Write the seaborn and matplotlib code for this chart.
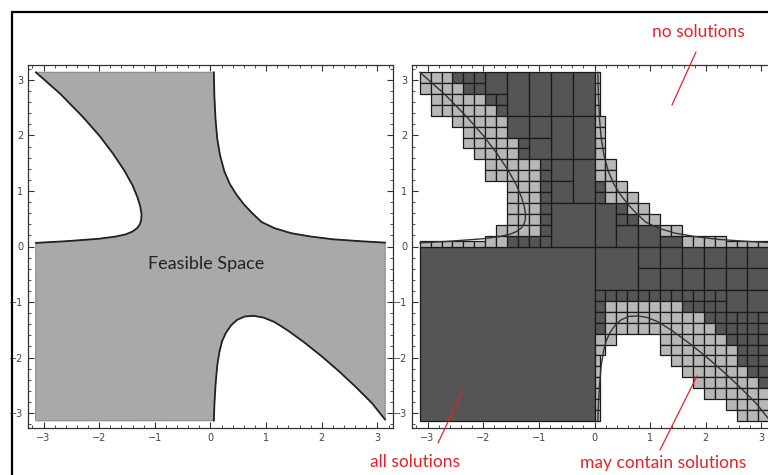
import numpy as np
import matplotlib
matplotlib.use('Agg')
import matplotlib.pyplot as plt
from matplotlib.lines import Line2D
from matplotlib.ticker import MultipleLocator
import seaborn as sns

# boundary curves of the feasible set
curve_a_x = [-3.14, -2.7, -2.29, -2.0, -1.75, -1.55, -1.40, -1.31, -1.26, -1.24, -1.245, -1.27, -1.32, -1.40, -1.52, -1.7, -2.0, -2.6, -3.14]
curve_a_y = [3.14, 2.75, 2.33, 2.0, 1.67, 1.37, 1.10, 0.88, 0.71, 0.58, 0.48, 0.40, 0.33, 0.27, 0.22, 0.18, 0.14, 0.095, 0.065]

curve_b_x = [0.06, 0.07, 0.09, 0.12, 0.17, 0.25, 0.35, 0.47, 0.6, 0.75, 0.92, 1.15, 1.45, 1.8, 2.2, 2.7, 3.14]
curve_b_y = [3.14, 2.7, 2.3, 1.95, 1.65, 1.35, 1.12, 0.93, 0.76, 0.6, 0.44, 0.33, 0.24, 0.18, 0.13, 0.095, 0.07]

curve_c_x = [0.06, 0.07, 0.09, 0.12, 0.16, 0.21, 0.28, 0.37, 0.48, 0.62, 0.78, 0.95, 1.15, 1.4, 1.7, 2.0, 2.3, 2.6, 2.9, 3.14]
curve_c_y = [-3.14, -2.85, -2.5, -2.15, -1.9, -1.7, -1.55, -1.42, -1.32, -1.26, -1.25, -1.28, -1.36, -1.52, -1.74, -1.98, -2.24, -2.52, -2.82, -3.12]

# paving of [-pi, pi]^2 in cells of pi/16 (first string = top row, first char = left column)
# L = may contain solutions, D = all solutions, . = no solutions
# # = part of a bigger box, v = left half of a cell, h = bottom half of a cell
paving_rows = [
    "LLLDDD##########" + "v...............",
    "LLLLDD##########" + "v...............",
    ".LLLLLDD########" + "v...............",
    ".LLLLLLD########" + "v...............",
    "...LLLLL########" + "L...............",
    "....LLLL########" + "L...............",
    "....LLLLLD######" + "L...............",
    ".....LLLLD######" + "L...............",
    "......LLLLLD####" + "LL..............",
    "......LLLLLD####" + "LL..............",
    "........LLLD####" + "DLL.............",
    "........LLLD####" + "DLLL............",
    "........LLLD####" + "##DLL...........",
    "........LLLD####" + "##DDLL..........",
    ".......LLLLD####" + "######LL........",
    "hhhhhhLLDDDD####" + "########LLLLhhhh",
    "################" + "################",
    "################" + "################",
    "################" + "################",
    "################" + "################",
    "################" + "DDDDDDDDDDDD####",
    "################" + "DLLLLLLLDDDD####",
    "################" + "DLLLLLLLLLDDDDDD",
    "################" + "DLLLLLLLLLLDDDDD",
    "################" + "LL....LLLLLLDDDD",
    "################" + "L.....LLLLLLLDDD",
    "################" + "v......LLLLLLDDD",
    "################" + "v.......LLLLLLDD",
    "################" + "v........LLLLLLD",
    "################" + "v.........LLLLLL",
    "################" + "v...........LLLL",
    "################" + "v............LLL",
]

# bigger "all solutions" boxes: (column, row, width, height) in cells
big_boxes = [
    (0, 0, 16, 16),
    (6, 30, 2, 2), (8, 28, 2, 4), (10, 28, 2, 4), (12, 28, 2, 4), (14, 28, 2, 4),
    (12, 24, 2, 4), (14, 24, 2, 4), (10, 26, 2, 2), (8, 26, 2, 2), (10, 24, 2, 2),
    (12, 22, 2, 2), (12, 20, 2, 2), (14, 20, 2, 4), (12, 16, 4, 4),
    (16, 16, 2, 4), (18, 16, 2, 2), (20, 16, 2, 2), (22, 16, 2, 1),
    (16, 12, 4, 4),
    (20, 14, 2, 2), (22, 14, 2, 2), (24, 14, 2, 2), (26, 14, 2, 2), (28, 14, 2, 2), (30, 14, 2, 2),
    (20, 12, 2, 2), (22, 12, 2, 2), (24, 12, 2, 2), (26, 12, 2, 2), (28, 12, 2, 2), (30, 12, 2, 2),
    (28, 10, 2, 2), (30, 10, 2, 2),
]

FILL = '#a9a9a9'
DARK = '#555555'
LIGHT = '#b7b7b7'
RED = '#e3242b'

cell = 2 * np.pi / 32
dark, light = [], []
for (c, r, w, h) in big_boxes:
    dark.append((c, r, w, h))
n = len(paving_rows)
for i, row in enumerate(paving_rows):
    r = n - 1 - i
    for c, k in enumerate(row):
        if k == 'D':
            dark.append((c, r, 1, 1))
        elif k == 'L':
            light.append((c, r, 1, 1))
        elif k == 'v':
            light.append((c, r, 0.5, 1))
        elif k == 'h':
            light.append((c, r, 1, 0.5))


def draw_boxes(ax, boxes, color):
    b = np.array(boxes, dtype=float)
    ax.bar(x=-np.pi + b[:, 0] * cell, height=b[:, 3] * cell, width=b[:, 2] * cell,
           bottom=-np.pi + b[:, 1] * cell, align='edge', color=color,
           edgecolor='#1a1a1a', linewidth=0.9, zorder=2)


def style(ax):
    ax.set_xlim(-3.28, 3.28)
    ax.set_ylim(-3.27, 3.27)
    ax.set_xticks(range(-3, 4))
    ax.set_yticks(range(-3, 4))
    ax.xaxis.set_minor_locator(MultipleLocator(0.2))
    ax.yaxis.set_minor_locator(MultipleLocator(0.2))
    ax.tick_params(which='both', direction='in', top=True, right=True, colors='#333333',
                   labelsize=7, labelcolor='#444444')
    ax.tick_params(which='major', length=4, width=0.8)
    ax.tick_params(which='minor', length=2, width=0.6)
    for s in ax.spines.values():
        s.set_color('#333333')
        s.set_linewidth(0.9)
    ax.set_xlabel('')
    ax.set_ylabel('')


sns.set_style('ticks')
plt.rcParams['font.family'] = ['DejaVu Sans']

fig = plt.figure(figsize=(7.68, 4.75), dpi=100)
W, H = 768.0, 475.0
ax1 = fig.add_axes([28 / W, 1 - 428 / H, 365 / W, 363 / H])
ax2 = fig.add_axes([412 / W, 1 - 428 / H, 365 / W, 363 / H])

# left: feasible space
poly_x = curve_b_x + curve_c_x[::-1] + [-np.pi] + curve_a_x[::-1]
poly_y = curve_b_y + curve_c_y[::-1] + [-np.pi] + curve_a_y[::-1]
ax1.fill(poly_x, poly_y, facecolor=FILL, edgecolor='#777777', linewidth=0.6, zorder=1)
for cx, cy in [(curve_a_x, curve_a_y), (curve_b_x, curve_b_y), (curve_c_x, curve_c_y)]:
    sns.lineplot(x=cx, y=cy, sort=False, estimator=None, ax=ax1, color='#222222', linewidth=1.3, zorder=3)
ax1.text(-0.07, -0.32, 'Feasible Space', ha='center', va='center', fontsize=13,
         family=['Lato', 'DejaVu Sans'], color='#222222', zorder=4)
style(ax1)

# right: interval paving
draw_boxes(ax2, dark, DARK)
draw_boxes(ax2, light, LIGHT)
for cx, cy in [(curve_a_x, curve_a_y), (curve_b_x, curve_b_y), (curve_c_x, curve_c_y)]:
    sns.lineplot(x=cx, y=cy, sort=False, estimator=None, ax=ax2, color='#333333', linewidth=1.0, zorder=3)
style(ax2)

# annotations
def fx(p):
    return p / W


def fy(p):
    return 1 - p / H


ann_font = ['Lato', 'DejaVu Sans']
fig.text(fx(698), fy(32), 'no solutions', ha='center', va='center', color=RED, fontsize=12.5, family=ann_font)
fig.text(fx(415), fy(462), 'all solutions', ha='center', va='center', color=RED, fontsize=12.5, family=ann_font)
fig.text(fx(663), fy(463), 'may contain solutions', ha='center', va='center', color=RED, fontsize=12.5, family=ann_font)
for (x1, y1, x2, y2) in [(696, 52, 672, 105), (438, 443, 463, 390), (660, 450, 697, 376)]:
    fig.add_artist(Line2D([fx(x1), fx(x2)], [fy(y1), fy(y2)], color=RED, linewidth=0.9))

# outer frame
fig.add_artist(Line2D([fx(11.5), 1.0], [fy(12), fy(12)], color='black', linewidth=1.6))
fig.add_artist(Line2D([fx(11.5), fx(11.5)], [0.0, fy(12)], color='black', linewidth=1.6))

fig.savefig('out.png', dpi=100)
